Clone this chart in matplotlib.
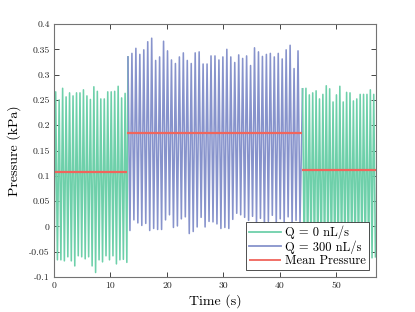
import numpy as np
import matplotlib
matplotlib.use("Agg")
import matplotlib.pyplot as plt

# ---------------- data ----------------
# segment boundaries (s)
seg_bounds = [0.0, 13.0, 43.9, 57.0]
mean_pressure = [0.108, 0.185, 0.111]

g1_peaks = [0.266, 0.250, 0.273, 0.256, 0.264, 0.258, 0.264, 0.264, 0.270, 0.258, 0.251,
            0.276, 0.267, 0.252, 0.252, 0.266, 0.266, 0.267, 0.277, 0.254, 0.263]
g1_troughs = [-0.080, -0.066, -0.066, -0.068, -0.060, -0.068, -0.078, -0.058, -0.060, -0.064, -0.060,
              -0.078, -0.091, -0.066, -0.070, -0.058, -0.066, -0.058, -0.074, -0.066, -0.065, -0.071]

b_peaks = [0.335, 0.342, 0.352, 0.340, 0.349, 0.365, 0.372, 0.328, 0.335, 0.366, 0.347,
           0.329, 0.322, 0.335, 0.343, 0.328, 0.322, 0.343, 0.345, 0.321, 0.321, 0.337,
           0.337, 0.329, 0.335, 0.350, 0.335, 0.324, 0.339, 0.332, 0.337, 0.318, 0.353,
           0.345, 0.336, 0.340, 0.342, 0.335, 0.342, 0.331, 0.349, 0.358, 0.312, 0.347]
b_troughs = [-0.008, 0.013, 0.007, 0.002, 0.006, -0.008, -0.004, -0.006, -0.006, 0.013, 0.023,
             -0.002, 0.001, 0.015, 0.019, -0.014, -0.010, -0.001, 0.018, -0.001, 0.010, 0.009,
             0.005, -0.004, -0.002, -0.004, 0.014, 0.026, 0.023, 0.018, 0.012, 0.020, 0.005,
             0.016, -0.003, 0.010, 0.022, 0.004, 0.015, 0.008, 0.019, 0.002, 0.012, 0.006]

g3_peaks = [0.272, 0.273, 0.260, 0.264, 0.268, 0.252, 0.261, 0.278, 0.272, 0.246, 0.260,
            0.277, 0.246, 0.265, 0.264, 0.248, 0.252, 0.261, 0.261, 0.261, 0.270, 0.261]
g3_troughs = [-0.062, -0.070, -0.058, -0.066, -0.060, -0.072, -0.064, -0.058, -0.068, -0.062, -0.075,
              -0.060, -0.066, -0.070, -0.058, -0.064, -0.068, -0.060, -0.066, -0.072, -0.062, -0.060]

xticks = [0, 10, 20, 30, 40, 50]
yticks = [-0.1, -0.05, 0, 0.05, 0.1, 0.15, 0.2, 0.25, 0.3, 0.35, 0.4]
ytick_labels = ["-0.1", "-0.05", "0", "0.05", "0.1", "0.15", "0.2", "0.25", "0.3", "0.35", "0.4"]
labels = ["Q = 0 nL/s", "Q = 300 nL/s", "Mean Pressure"]

GREEN = "#6ED0AA"
BLUE = "#8793CC"
RED = "#F0655C"

# ------------- build traces -------------
def interleave(first, second):
    out = []
    for i in range(max(len(first), len(second))):
        if i < len(first):
            out.append(first[i])
        if i < len(second):
            out.append(second[i])
    return np.array(out)

g1_y = interleave(g1_troughs, g1_peaks)
g1_t = np.linspace(seg_bounds[0], seg_bounds[1] - 0.1, len(g1_y))
b_y = interleave(b_peaks, b_troughs)
b_t = np.linspace(seg_bounds[1] + 0.1, seg_bounds[2] - 0.35, len(b_y))
g3_y = interleave(g3_peaks, g3_troughs)
g3_t = np.linspace(seg_bounds[2] + 0.1, seg_bounds[3] - 0.1, len(g3_y))

# connect segments (rising strokes belong to the segment they rise into / from)
g1_t_full = np.concatenate([g1_t, [b_t[0]]])
g1_y_full = np.concatenate([g1_y, [b_y[0]]])
b_t_full = np.concatenate([b_t, [g3_t[0]]])
b_y_full = np.concatenate([b_y, [g3_y[0]]])

plt.rcParams["font.family"] = ["cmr10", "DejaVu Serif"]
plt.rcParams["axes.unicode_minus"] = False

fig = plt.figure(figsize=(4.15, 3.12), dpi=100)
ax = fig.add_axes([0.130, 0.112, 0.776, 0.811])

lw = 1.15
ax.plot(g1_t_full, g1_y_full, color=GREEN, lw=lw, label=labels[0])
ax.plot(b_t_full, b_y_full, color=BLUE, lw=lw, label=labels[1])
ax.plot(g3_t, g3_y, color=GREEN, lw=lw)
for i, m in enumerate(mean_pressure):
    ax.plot([seg_bounds[i], seg_bounds[i + 1]], [m, m], color=RED, lw=1.6,
            label=labels[2] if i == 0 else None, solid_capstyle="butt")

ax.set_xlim(seg_bounds[0], seg_bounds[-1])
ax.set_ylim(-0.1, 0.4)
ax.set_xticks(xticks)
ax.set_xticklabels([str(v) for v in xticks])
ax.set_yticks(yticks)
ax.set_yticklabels(ytick_labels)
ax.tick_params(direction="in", length=3.5, width=0.6, colors="0.15", labelsize=7,
               top=True, right=True, pad=3)
for sp in ax.spines.values():
    sp.set_color("0.45")
    sp.set_linewidth(0.8)

ax.set_xlabel("Time (s)", fontsize=10, labelpad=3)
ax.set_ylabel("Pressure (kPa)", fontsize=10, labelpad=6)

leg = ax.legend(loc="lower right", bbox_to_anchor=(0.978, 0.027), borderaxespad=0,
                fontsize=9, fancybox=False, framealpha=1, edgecolor="0.2",
                handlelength=2.6, handletextpad=0.3, borderpad=0.25, labelspacing=0.1)
leg.get_frame().set_linewidth(0.6)
for h in leg.get_lines():
    h.set_linewidth(1.3)

fig.savefig("out.png", dpi=100)
